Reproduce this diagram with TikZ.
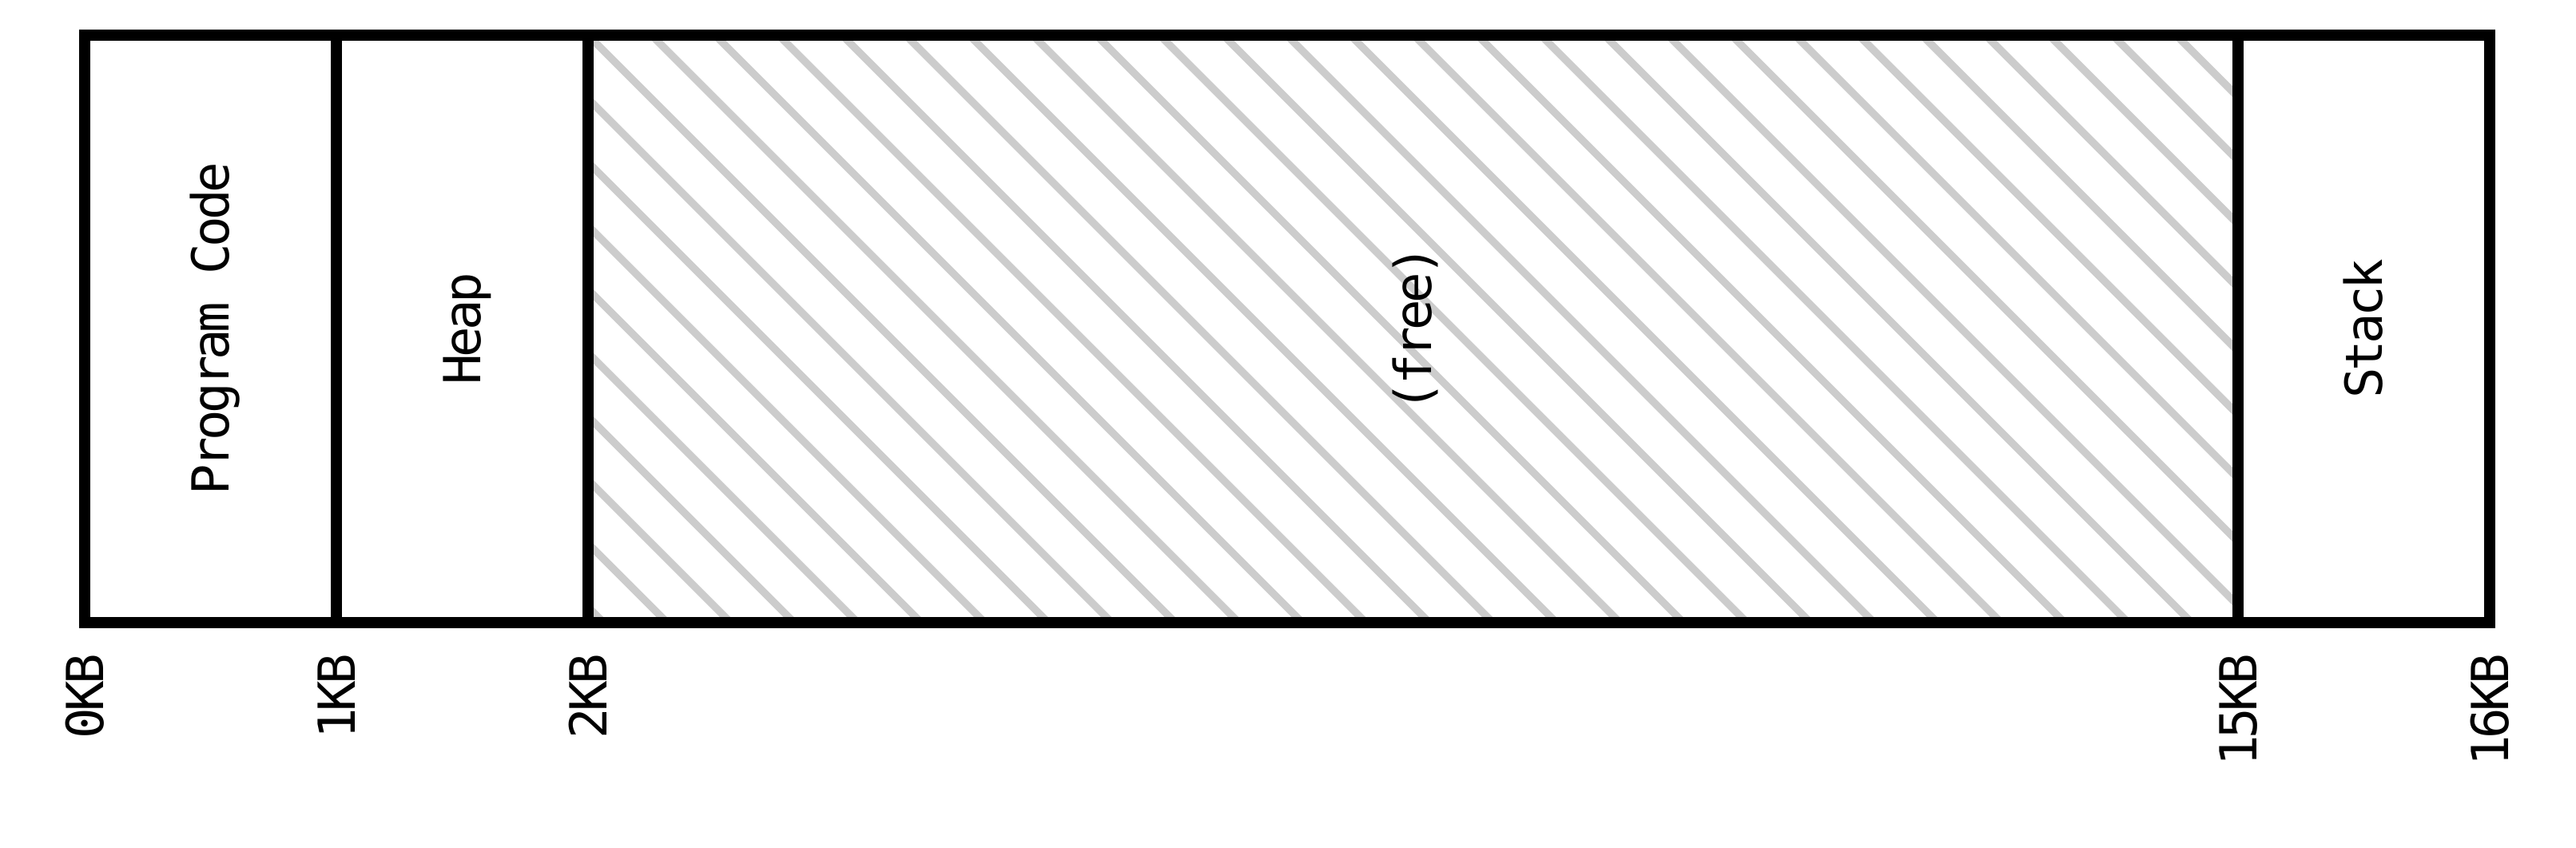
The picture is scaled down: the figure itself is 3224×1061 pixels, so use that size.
\documentclass[tikz,border=0pt]{standalone}
\usepackage{fontspec}
\newfontfamily\monof{DejaVu Sans Mono}[LetterSpace=-7.1]
\begin{document}
\begin{tikzpicture}[x={(0.02cm,0)},y={(0,-0.02cm)},
  frame/.style={draw=black,line width=0.28cm,line cap=rect},
  hatchline/.style={draw={rgb,255:red,204;green,204;blue,204},line width=0.19cm},
  seglabel/.style={font=\monof\fontsize{36.4}{40}\selectfont,inner sep=0pt,rotate=90,anchor=base},
  addrlabel/.style={font=\monof\fontsize{36.4}{40}\selectfont,inner sep=0pt,rotate=90,anchor=base east}]
\useasboundingbox (0,0) rectangle (3224,1061);
\fill[white] (0,0) rectangle (3224,1061);
% boundary coordinates
\coordinate (t0) at (106,44);  \coordinate (b0) at (106,779);
\coordinate (t1) at (421,44);  \coordinate (b1) at (421,779);
\coordinate (t2) at (736,44);  \coordinate (b2) at (736,779);
\coordinate (t15) at (2801,44); \coordinate (b15) at (2801,779);
\coordinate (t16) at (3116,44); \coordinate (b16) at (3116,779);
% hatching of the free region
\begin{scope}
  \clip (t2) rectangle (b15);
  \foreach \k in {-11,...,26}{
    \draw[hatchline] ({771.5+79.5*\k-100},-100) -- ({771.5+79.5*\k+900},900);
  }
\end{scope}
% frame and dividers
\draw[frame] (t0) rectangle (b16);
\draw[frame] (t1) -- (b1);
\draw[frame] (t2) -- (b2);
\draw[frame] (t15) -- (b15);
% segment labels
\node[seglabel] (code) at (286.5,411.5) {Program Code};
\node[seglabel] (heap) at (601.5,411.5) {Heap};
\node[seglabel] (free) at (1791.5,411.5) {(free)};
\node[seglabel] (stack) at (2981.5,411.5) {Stack};
% address labels
\node[addrlabel] (a0) at (129.5,818) {0KB};
\node[addrlabel] (a1) at (444.5,818) {1KB};
\node[addrlabel] (a2) at (759.5,818) {2KB};
\node[addrlabel] (a15) at (2824.5,818) {15KB};
\node[addrlabel] (a16) at (3139.5,818) {16KB};
\end{tikzpicture}
\end{document}
